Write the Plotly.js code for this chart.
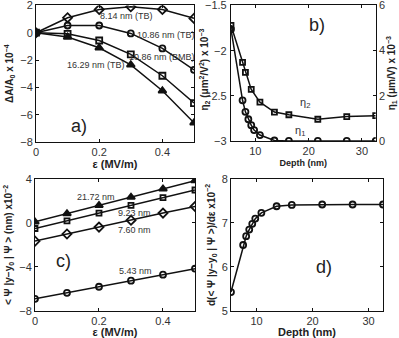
<!DOCTYPE html>
<html>
<head>
<meta charset="utf-8">
<script src="https://cdn.plot.ly/plotly-3.0.1.min.js"></script>
<style>
  html, body { margin: 0; padding: 0; background: #fff; }
  #chart { width: 399px; height: 338px; }
</style>
</head>
<body>
<div id="chart"></div>
<script>
// field values (MV/m) for panels a) and c)
const eps = [0, 0.1, 0.2, 0.3, 0.4, 0.5]

// a) dA/A0 x 1e-4
const a814TB = [0, 1.1, 1.7, 1.9, 1.7, 1.05]
const a1086TB = [0, 0.53, 0.53, -0.05, -1.15, -2.72]
const a1086BMB = [0, -0.08, -0.57, -1.58, -3.15, -5.15]
const a1629TB = [0, -0.32, -1.1, -2.35, -4.25, -6.6]

// b) eta vs depth
const depthEta2 = [5.43, 7.60, 8.14, 9.23, 10.86, 13.58, 16.29, 21.72, 27.15, 32.58]
const eta2 = [-1.72, -2.13, -2.24, -2.43, -2.57, -2.68, -2.71, -2.76, -2.73, -2.72]
const depthEta1 = [5.43, 7.60, 8.14, 8.69, 9.23, 9.77, 10.86, 13.58, 16.29, 21.72, 27.15, 32.58]
const eta1 = [4.95, 1.8, 1.29, 0.96, 0.7, 0.48, 0.26, 0.02, 0, 0, 0, 0]
const eta2Ticks = [-3, -2.5, -2, -1.5]

// c) <psi|y-y0|psi> x 1e-2
const c2172 = [0.1, 0.85, 1.6, 2.35, 3.1, 3.85]
const c923 = [-0.5, 0.2, 0.9, 1.6, 2.3, 3.0]
const c760 = [-1.65, -1.0, -0.37, 0.25, 0.9, 1.5]
const c543 = [-6.9, -6.35, -5.8, -5.25, -4.7, -4.15]

// d) slope vs depth
const depthD = [5.43, 7.60, 8.14, 8.69, 9.23, 9.77, 10.86, 13.58, 16.29, 21.72, 27.15, 32.58]
const slopeD = [5.43, 6.5, 6.7, 6.85, 6.98, 7.1, 7.23, 7.38, 7.41, 7.42, 7.42, 7.42]

const black = '#111'
const ln = { color: black, width: 1.5 }
const mk = (symbol, size) => ({ symbol, size: size || 6, color: black, line: { color: black, width: 1.8 } })

function tr(x, y, sym, xa, ya, size) {
    return { x, y, xaxis: xa, yaxis: ya, type: 'scatter', mode: 'lines+markers', line: ln, marker: mk(sym, size), showlegend: false }
}

let data = [
    tr(eps, a814TB, 'diamond-open', 'x', 'y', 7),
    tr(eps, a1086TB, 'circle-open', 'x', 'y'),
    tr(eps, a1086BMB, 'square-open', 'x', 'y'),
    tr(eps, a1629TB, 'triangle-up', 'x', 'y', 7),
    tr(depthEta2, eta2, 'square-open', 'x2', 'y2', 5),
    tr(depthEta1, eta1, 'circle-open', 'x2', 'y3'),
    tr(eps, c2172, 'triangle-up', 'x3', 'y4', 7),
    tr(eps, c923, 'square-open', 'x3', 'y4', 5),
    tr(eps, c760, 'diamond-open', 'x3', 'y4', 7),
    tr(eps, c543, 'circle-open', 'x3', 'y4'),
    tr(depthD, slopeD, 'circle-open', 'x4', 'y5')
]

const tickFont = { family: 'Liberation Sans, Arial, sans-serif', size: 11, color: '#333' }
function ax(extra) {
    return Object.assign({
        showline: true, linecolor: black, linewidth: 1, mirror: 'ticks',
        ticks: 'inside', ticklen: 3, tickcolor: black, showgrid: false, zeroline: false,
        tickfont: tickFont, ticklabeloverflow: 'allow'
    }, extra)
}
const xTitleFont = { family: 'Liberation Sans, Arial, sans-serif', size: 11, color: '#222', weight: 'bold' }
const yTitleFont = { family: 'Liberation Sans, Arial, sans-serif', size: 10, color: '#222', weight: 'bold' }

const layout = {
    width: 399, height: 338,
    margin: { l: 0, r: 0, t: 0, b: 0 },
    paper_bgcolor: '#fff', plot_bgcolor: '#fff',
    showlegend: false,
    xaxis: ax({ domain: [0.0902, 0.4862], anchor: 'y', range: [0, 0.5], dtick: 0.2, tick0: 0,
        title: { text: 'ε (MV/m)', font: xTitleFont, standoff: 3 } }),
    yaxis: ax({ domain: [0.580, 0.984], anchor: 'x', range: [-8, 2], dtick: 2,
        title: { text: 'ΔA/A<sub>0</sub> x 10<sup>−4</sup>', font: yTitleFont, standoff: 4 } }),
    xaxis2: ax({ domain: [0.5789, 0.9416], anchor: 'y2', range: [5.43, 32.58], dtick: 10, tick0: 0,
        title: { text: 'Depth (nm)', font: Object.assign({}, xTitleFont, { size: 9 }), standoff: 3 } }),
    yaxis2: ax({ domain: [0.583, 0.984], anchor: 'x2', range: [-3, -1.5], tickvals: eta2Ticks, mirror: false,
        showticklabels: false }),
    yaxis3: ax({ domain: [0.583, 0.984], anchor: 'x2', overlaying: 'y2', side: 'right', range: [0, 6], dtick: 2, mirror: false,
        title: { text: 'η<sub>1</sub> (μm/V) x 10<sup>−3</sup>', font: yTitleFont, standoff: 2 } }),
    xaxis3: ax({ domain: [0.0877, 0.4887], anchor: 'y4', range: [0, 0.5], dtick: 0.2, tick0: 0,
        title: { text: 'ε (MV/m)', font: xTitleFont, standoff: 5 } }),
    yaxis4: ax({ domain: [0.08, 0.4704], anchor: 'x3', range: [-8, 4], dtick: 4,
        title: { text: '< Ψ |y−y<sub>0</sub> | Ψ > (nm) x10<sup>−2</sup>', font: yTitleFont, standoff: 4 } }),
    xaxis4: ax({ domain: [0.5789, 0.9599], anchor: 'y5', range: [5.43, 32.58], dtick: 10, tick0: 0,
        title: { text: 'Depth (nm)', font: xTitleFont, standoff: 5 } }),
    yaxis5: ax({ domain: [0.08, 0.4704], anchor: 'x4', range: [5, 8], dtick: 1,
        title: { text: 'd(< Ψ |y−y<sub>0</sub> | Ψ >)/dε x10<sup>−2</sup>', font: yTitleFont, standoff: 4 } }),
    annotations: []
}

const noteFont = { family: 'Liberation Sans, Arial, sans-serif', size: 9, color: '#333' }
const bigFont = { family: 'Liberation Sans, Arial, sans-serif', size: 18, color: '#222' }
function note(text, x, y, xref, yref, font) {
    layout.annotations.push({ text, x, y, xref, yref, showarrow: false, font: font || noteFont })
}
note('8.14 nm (TB)', 0.285, 1.25, 'x', 'y')
note('10.86 nm (TB)', 0.41, -0.2, 'x', 'y')
note('10.86 nm (BMB)', 0.40, -1.8, 'x', 'y')
note('16.29 nm (TB)', 0.19, -2.4, 'x', 'y')
note('a)', 0.135, -6.8, 'x', 'y', bigFont)
note('η<sub>2</sub>', 19.3, -2.58, 'x2', 'y2', Object.assign({}, noteFont, { size: 11 }))
note('η<sub>1</sub>', 18.4, -2.89, 'x2', 'y2', Object.assign({}, noteFont, { size: 11 }))
note('b)', 21.5, -1.72, 'x2', 'y2', bigFont)
note('21.72 nm', 0.19, 2.4, 'x3', 'y4')
note('9.23 nm', 0.31, 0.9, 'x3', 'y4')
note('7.60 nm', 0.31, -0.6, 'x3', 'y4')
note('5.43 nm', 0.315, -4.37, 'x3', 'y4')
note('c)', 0.09, -3.5, 'x3', 'y4', bigFont)
note('d)', 22.0, 6.0, 'x4', 'y5', bigFont)

// left tick labels of panel b (eta2 axis), anchored at the axis start
eta2Ticks.forEach(v => {
    layout.annotations.push({
        text: String(v).replace('-', '−'), x: depthEta2[0], y: v, xref: 'x2', yref: 'y2',
        xanchor: 'right', yanchor: 'middle', xshift: -2, showarrow: false, font: tickFont
    })
})
// left title of panel b
layout.annotations.push({
    text: 'η<sub>2</sub> (μm<sup>2</sup>/V<sup>2</sup>) x 10<sup>−3</sup>', textangle: -90,
    xref: 'paper', yref: 'paper', x: 0.512, y: 0.795, xanchor: 'center', yanchor: 'middle',
    showarrow: false, font: yTitleFont
})

Plotly.newPlot('chart', data, layout, { staticPlot: true, displayModeBar: false })
</script>
</body>
</html>
